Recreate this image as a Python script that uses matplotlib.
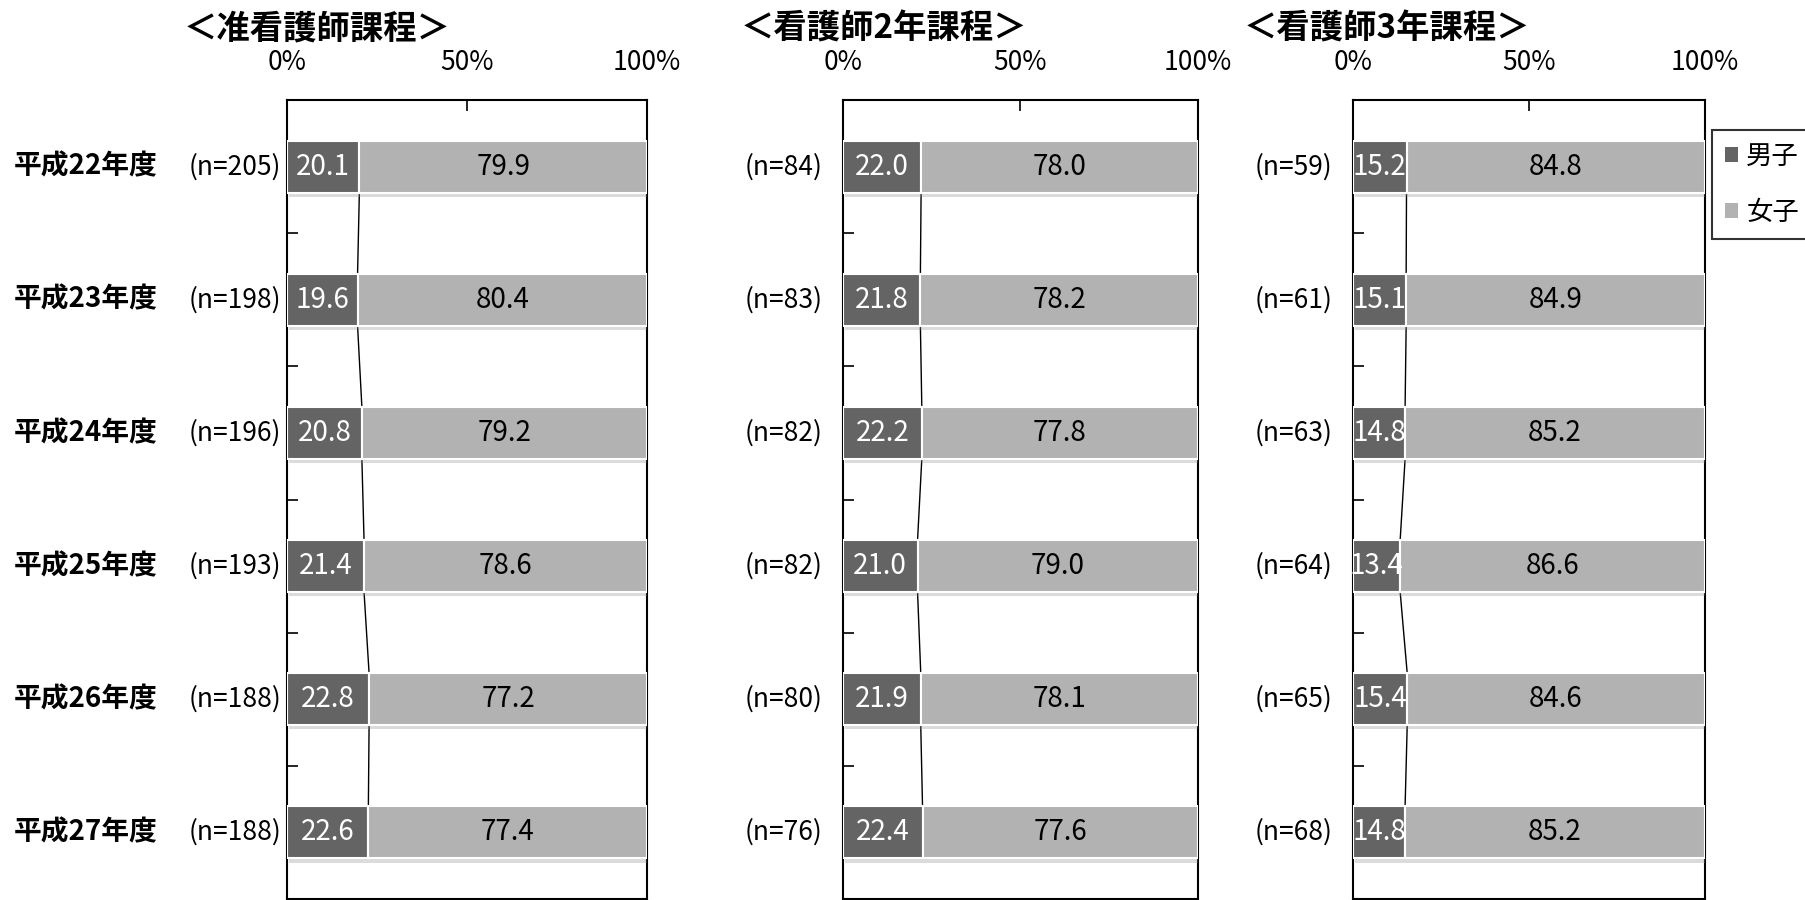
import numpy as np
import matplotlib
matplotlib.use("Agg")
import matplotlib.pyplot as plt
import matplotlib.patheffects as pe
from matplotlib.patches import Patch

plt.rcParams['font.family'] = ['Noto Sans CJK JP', 'DejaVu Sans']

# ── データ ─────────────────────────────────────
years = ["平成22年度", "平成23年度", "平成24年度", "平成25年度", "平成26年度", "平成27年度"]
titles = ["＜准看護師課程＞", "＜看護師2年課程＞", "＜看護師3年課程＞"]

n_jun = [205, 198, 196, 193, 188, 188]
male_jun = [20.1, 19.6, 20.8, 21.4, 22.8, 22.6]
female_jun = [79.9, 80.4, 79.2, 78.6, 77.2, 77.4]

n_2nen = [84, 83, 82, 82, 80, 76]
male_2nen = [22.0, 21.8, 22.2, 21.0, 21.9, 22.4]
female_2nen = [78.0, 78.2, 77.8, 79.0, 78.1, 77.6]

n_3nen = [59, 61, 63, 64, 65, 68]
male_3nen = [15.2, 15.1, 14.8, 13.4, 15.4, 14.8]
female_3nen = [84.8, 84.9, 85.2, 86.6, 84.6, 85.2]

legend_labels = ["男子", "女子"]
xtick_vals = [0, 50, 100]
xtick_labels = ["0%", "50%", "100%"]

C_MALE = "#646464"
C_FEMALE = "#b2b2b2"

W, H = 1806, 900
fig = plt.figure(figsize=(W / 100, H / 100), dpi=100)

# 各パネルの位置（ピクセル）
panel_px = [(287, 360), (843, 355), (1353, 352)]
title_x = [184, 741, 1244]
panels = [
    (n_jun, male_jun, female_jun),
    (n_2nen, male_2nen, female_2nen),
    (n_3nen, male_3nen, female_3nen),
]

bar_h = 0.39
shadow = [pe.SimplePatchShadow(offset=(1.5, -3), shadow_rgbFace="#888888", alpha=0.3), pe.Normal()]

for k, ((left, width), (ns, male, female)) in enumerate(zip(panel_px, panels)):
    ax = fig.add_axes([left / W, 1 / H, width / W, (H - 100 - 1) / H])
    y = np.arange(len(years))

    b1 = ax.barh(y, male, height=bar_h, color=C_MALE, edgecolor="white", linewidth=1.5, zorder=3)
    b2 = ax.barh(y, female, left=male, height=bar_h, color=C_FEMALE, edgecolor="white", linewidth=1.5, zorder=3)
    for bar in list(b1) + list(b2):
        bar.set_path_effects(shadow)

    # 区分線
    for i in range(len(y) - 1):
        ax.plot([male[i], male[i + 1]], [y[i] + bar_h / 2, y[i + 1] - bar_h / 2],
                color="black", linewidth=1.0, zorder=2)

    for i in range(len(y)):
        ax.text(male[i] / 2, y[i], f"{male[i]:.1f}", ha="center", va="center",
                color="white", fontsize=20, zorder=5)
        ax.text(male[i] + female[i] / 2, y[i], f"{female[i]:.1f}", ha="center", va="center",
                color="black", fontsize=20, zorder=5)
        ax.annotate(f"(n={ns[i]})", xy=(0, y[i]), xycoords=("axes fraction", "data"),
                    xytext=(-71, 0), textcoords="offset points", ha="left", va="center",
                    fontsize=19)
        if k == 0:
            ax.annotate(years[i], xy=(14 / W, y[i]), xycoords=("figure fraction", "data"),
                        ha="left", va="center", fontsize=20, fontweight="bold")

    ax.set_xlim(0, 100)
    ax.set_ylim(len(y) - 0.5, -0.5)
    ax.xaxis.tick_top()
    ax.set_xticks(xtick_vals)
    ax.set_xticklabels(xtick_labels, fontsize=19)
    ax.tick_params(axis="x", direction="in", length=8, width=1.2, pad=17)
    ax.set_yticks([])
    ax.set_yticks(np.arange(0.5, len(y) - 1, 1.0), minor=True)
    ax.tick_params(axis="y", which="minor", direction="in", length=8, width=1.2)
    for s in ax.spines.values():
        s.set_linewidth(1.5)
        s.set_color("black")

    fig.text(title_x[k] / W, 1 - 29 / H, titles[k], ha="left", va="center",
             fontsize=24, fontweight="bold")

handles = [Patch(facecolor=C_MALE, edgecolor="none"), Patch(facecolor=C_FEMALE, edgecolor="none")]
leg = fig.legend(handles, legend_labels, loc="upper left", bbox_to_anchor=(1712 / W, 1 - 130 / H),
                 fontsize=19, frameon=True, fancybox=False, handlelength=0.5, handleheight=0.5,
                 handletextpad=0.3, labelspacing=1.1, borderpad=0.5, borderaxespad=0)
leg.get_frame().set_edgecolor("black")
leg.get_frame().set_linewidth(1.5)

fig.savefig("out.png", dpi=100)
